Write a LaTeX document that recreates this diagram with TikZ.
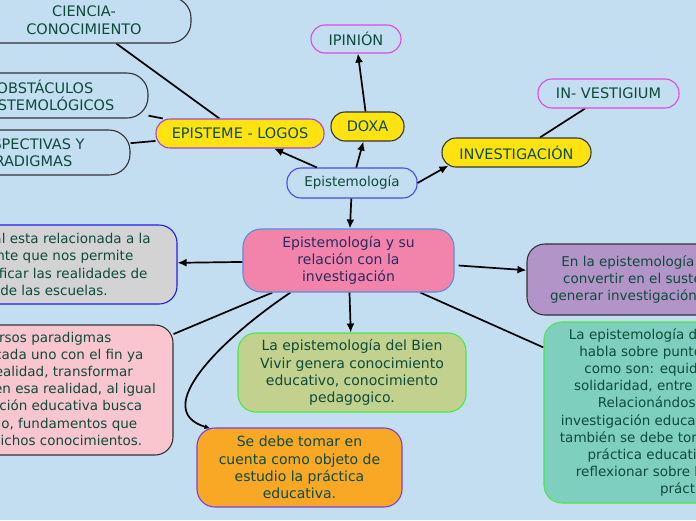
\documentclass[tikz,border=0pt]{standalone}
\usepackage{fontspec}
\setmainfont{DejaVu Sans}
\usetikzlibrary{arrows.meta,calc}
\pgfdeclarelayer{background}
\pgfsetlayers{background,main}
\definecolor{bg}{HTML}{C2DEF0}
\definecolor{txt}{HTML}{0E4B3B}
\definecolor{navy}{HTML}{2B2B5E}
\definecolor{yel}{HTML}{FFE311}
\definecolor{purpb}{HTML}{B040D0}
\definecolor{magb}{HTML}{E048E8}
\definecolor{blueb}{HTML}{4A4AF0}
\definecolor{pinkc}{HTML}{F284AC}
\definecolor{pinkcb}{HTML}{5A8ED8}
\definecolor{greyf}{HTML}{D3D3D3}
\definecolor{greyb}{HTML}{1E1EF0}
\definecolor{pinkl}{HTML}{F9C6D0}
\definecolor{darkb}{HTML}{333333}
\definecolor{greenf}{HTML}{C2D18E}
\definecolor{greenb}{HTML}{4AE84A}
\definecolor{orangef}{HTML}{F9A825}
\definecolor{orangeb}{HTML}{7B3FE0}
\definecolor{purplef}{HTML}{B294C8}
\definecolor{tealf}{HTML}{7FCFBF}
\newcommand{\fsz}{\fontsize{13.5}{17.2}\selectfont}
\newcommand{\fszb}{\fontsize{14}{17.3}\selectfont}
\newcommand{\fszc}{\fontsize{14.5}{17.5}\selectfont}
\tikzset{
  box/.style={draw, line width=1.1pt, inner sep=0pt, align=center, text=txt, font=\fsz, fill=bg},
  pill/.style={box, rounded corners=14pt, font=\fszc},
  bigbox/.style={box, rounded corners=18pt},
  capbox/.style={bigbox, draw=darkb, rounded corners=21pt, font=\fszc},
  conn/.style={line width=1.7pt, draw=black},
  arr/.style={conn, -{Latex[length=9pt,width=8pt]}},
}
\begin{document}
\begin{tikzpicture}[x=1pt,y=-1pt]
\useasboundingbox (0,0) rectangle (696,520);
\clip (0,0) rectangle (696,520);
\begin{pgfonlayer}{background}
\fill[bg] (0,0) rectangle (696,520);
\end{pgfonlayer}

% upper nodes
\node[capbox, minimum width=214pt, minimum height=46pt] (ciencia) at (84,20) {CIENCIA-\\CONOCIMIENTO};
\node[capbox, minimum width=206pt, minimum height=45pt] (obst) at (45,95.5) {OBSTÁCULOS\\EPISTEMOLÓGICOS};
\node[capbox, minimum width=211pt, minimum height=45pt] (persp) at (24.5,152.5) {PERSPECTIVAS Y\\PARADIGMAS};
\node[pill, draw=purpb, fill=yel, minimum width=168pt, minimum height=29pt] (episteme) at (240,133.5) {EPISTEME - LOGOS};
\node[pill, draw=magb, minimum width=90pt, minimum height=28pt] (ipinion) at (356,39) {IPINIÓN};
\node[pill, draw=darkb, fill=yel, minimum width=73pt, minimum height=29pt] (doxa) at (367.5,126.5) {DOXA};
\node[pill, draw=darkb, fill=yel, minimum width=149pt, minimum height=29pt] (invest) at (516.5,152.5) {INVESTIGACIÓN};
\node[pill, draw=magb, minimum width=141pt, minimum height=29pt] (vestig) at (608.5,93.5) {IN- VESTIGIUM};
\node[pill, draw=blueb, font=\fsz, minimum width=130pt, minimum height=30pt] (epist) at (352,183) {Epistemología};

% central
\node[bigbox, draw=pinkcb, fill=pinkc, text=navy, font=\fszb, minimum width=211pt, minimum height=63pt] (central) at (348.5,260.5) {Epistemología y su\\relación con la\\investigación};

% lower nodes
\node[bigbox, draw=greyb, fill=greyf, minimum width=246pt, minimum height=79pt] (grey) at (54,264.5) {La cual esta relacionada a la\\fuente que nos permite\\identificar las realidades de\\de las escuelas.};
\node[bigbox, draw=darkb, fill=pinkl, minimum width=266pt, minimum height=130pt] (pinkl) at (40,390) {Diversos paradigmas\\existen, cada uno con el fin ya\\ver la realidad, transformar\\intervenir en esa realidad, al igual\\investigación educativa busca\\desarrollo, fundamentos que\\apoyen dichos conocimientos.};
\node[bigbox, draw=greenb, fill=greenf, font=\fszb, minimum width=228pt, minimum height=79pt] (green) at (352,372.5) {La epistemología del Bien\\Vivir genera conocimiento\\educativo, conocimiento\\pedagogico.};
\node[bigbox, draw=orangeb, fill=orangef, font=\fszb, minimum width=205pt, minimum height=79pt] (orange) at (299.5,467.5) {Se debe tomar en\\cuenta como objeto de\\estudio la práctica\\educativa.};
\node[bigbox, draw=darkb, fill=purplef, minimum width=268pt, minimum height=71pt] (purpler) at (661,279.5) {En la epistemología se puede\\convertir en el sustento para\\generar investigación educativa.};
\node[bigbox, draw=greenb, fill=tealf, minimum width=291pt, minimum height=181pt] (teal) at (689.5,412.5) {La epistemología del Bien Vivir, nos\\habla sobre puntos importantes,\\como son: equidad, respeto, la\\solidaridad, entre otros principios.\\Relacionándose con la paz,\\investigación educativa, notamos que\\también se debe tomar en cuenta a la\\práctica educativa para poder\\reflexionar sobre la realidad de la\\práctica.};

% connectors
\begin{pgfonlayer}{background}
\draw[conn] (episteme) -- (ciencia);
\draw[conn] (episteme) -- (obst);
\draw[conn] (episteme) -- (persp);
\draw[conn] (invest) -- (vestig);
\draw[conn] (central) -- (pinkl);
\draw[conn] (central) -- (teal);
\coordinate (cs) at ($(central.south west)+(48,0)$);
\coordinate (ce) at ($(orange.north west)+(14,1)$);
\draw[conn, -{Latex[length=6pt,width=5pt]}] (cs) .. controls (220,340) and (150,410) .. (ce);
\end{pgfonlayer}
\draw[arr] (epist) -- (episteme);
\draw[arr] (epist) -- (doxa);
\draw[arr] (doxa) -- (ipinion);
\draw[arr] (epist.east) -- ($(invest.south west)+(7,-2)$);
\draw[arr] (epist) -- (central);
\draw[arr] (central) -- (grey);
\draw[arr] ($(central.east)+(4,5)$) -- (purpler);
\draw[arr] (central) -- (green);
\end{tikzpicture}
\end{document}
